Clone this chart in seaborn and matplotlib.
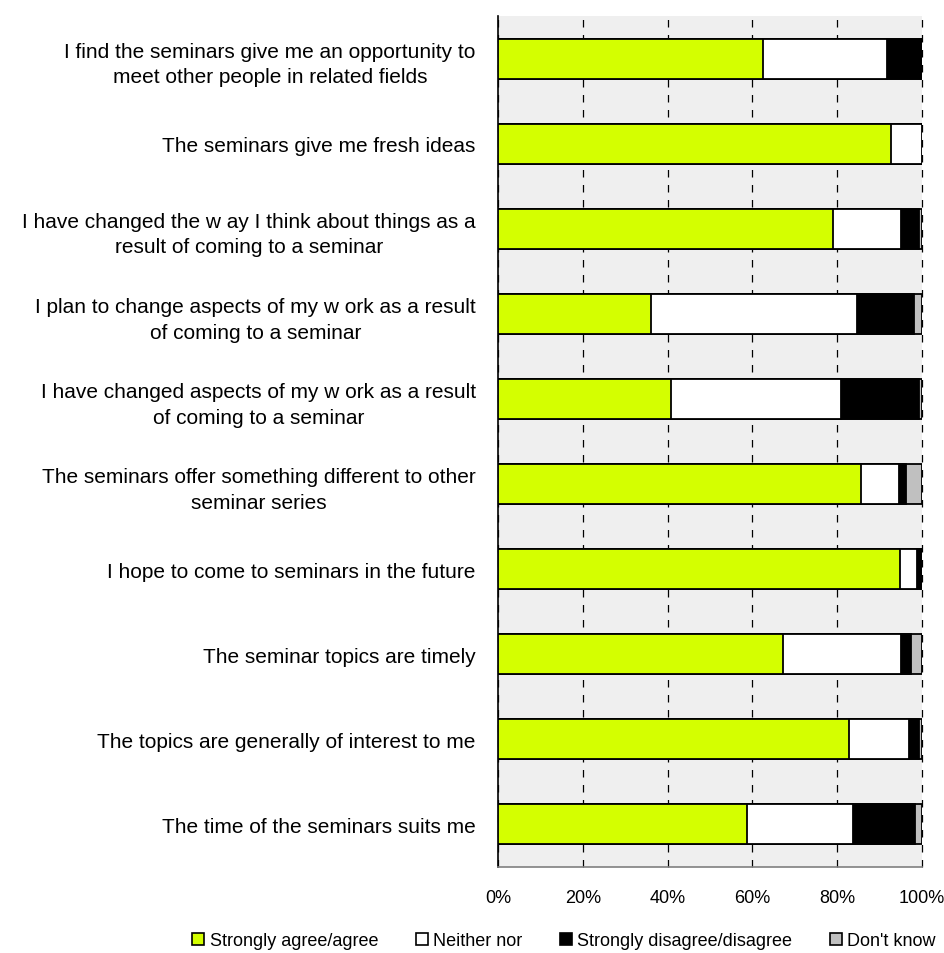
import numpy as np
import pandas as pd
import matplotlib
matplotlib.use('Agg')
import matplotlib.pyplot as plt
from matplotlib.patches import Patch
import seaborn as sns

# ── data (percent of respondents, top row first) ─────────────
statements = [
    "I find the seminars give me an opportunity to\nmeet other people in related fields",
    "The seminars give me fresh ideas",
    "I have changed the w ay I think about things as a\nresult of coming to a seminar",
    "I plan to change aspects of my w ork as a result\nof coming to a seminar",
    "I have changed aspects of my w ork as a result\nof coming to a seminar",
    "The seminars offer something different to other\nseminar series",
    "I hope to come to seminars in the future",
    "The seminar topics are timely",
    "The topics are generally of interest to me",
    "The time of the seminars suits me",
]
agree      = [62.6, 92.7, 79.1, 36.2, 40.9, 85.7, 94.7, 67.3, 82.9, 58.8]
neither    = [29.1,  7.3, 15.9, 48.4, 39.9,  8.9,  4.1, 27.7, 14.0, 24.9]
disagree   = [ 8.3,  0.0,  4.2, 13.6, 18.4,  1.6,  1.2,  2.3,  2.4, 14.6]
dont_know  = [ 0.0,  0.0,  0.8,  1.8,  0.8,  3.8,  0.0,  2.7,  0.7,  1.7]

series_names = ["Strongly agree/agree", "Neither nor",
                "Strongly disagree/disagree", "Don't know"]
colors = ["#d4ff00", "#ffffff", "#000000", "#c0c0c0"]
ticks = [0, 20, 40, 60, 80, 100]

# ── build cumulative table for stacking ──────────────────────
df = pd.DataFrame({
    "statement": statements,
    series_names[0]: agree,
    series_names[1]: neither,
    series_names[2]: disagree,
    series_names[3]: dont_know,
})
cum = df[series_names].cumsum(axis=1)
cum["statement"] = df["statement"]

# ── plot ─────────────────────────────────────────────────────
sns.set_style("white")
plt.rcParams['font.family'] = ['Liberation Sans', 'DejaVu Sans']
plt.rcParams['text.color'] = 'black'
plt.rcParams['xtick.color'] = 'black'
plt.rcParams['ytick.color'] = 'black'

fig = plt.figure(figsize=(9.45, 9.54), dpi=100)
ax = fig.add_axes([498 / 945, 1 - 868 / 954, 424 / 945, (868 - 17) / 954])
ax.set_facecolor("#efefef")

# draw longest cumulative first so the shorter ones sit on top
for name, col in reversed(list(zip(series_names, colors))):
    sns.barplot(data=cum, x=name, y="statement", orient="h", color=col,
                edgecolor="black", linewidth=1.3, width=0.47,
                saturation=1, ax=ax, zorder=3)

ax.set_xlim(0, 100)
ax.set_ylim(len(statements) - 0.5, -0.5)
ax.set_xticks(ticks)
ax.set_xticklabels([f"{t}%" for t in ticks], fontsize=13)
ax.tick_params(axis="x", length=0, pad=16)
ax.tick_params(axis="y", length=0, pad=16)
for lab in ax.get_yticklabels():
    lab.set_fontsize(15)
    lab.set_multialignment("center")
    lab.set_linespacing(1.45)
ax.set_xlabel("")
ax.set_ylabel("")

ax.grid(axis="x", color="black", linestyle=(0, (6, 6)), linewidth=0.9, zorder=1)
ax.grid(axis="y", visible=False)
for gl in ax.get_xgridlines():
    gl.set_clip_on(False)
ax.set_axisbelow(True)

for side in ["top", "right"]:
    ax.spines[side].set_visible(False)
ax.spines["left"].set_color("black")
ax.spines["left"].set_linewidth(1.2)
ax.spines["bottom"].set_color("#808080")
ax.spines["bottom"].set_linewidth(1.2)

handles = [Patch(facecolor=c, edgecolor="black", linewidth=1.2) for c in colors]
fig.legend(handles, series_names, loc="lower center", ncol=4,
           bbox_to_anchor=(0.597, -0.013), frameon=False, fontsize=13,
           handlelength=0.65, handleheight=0.65, handletextpad=0.3,
           columnspacing=2.1)

fig.savefig("out.png", dpi=100)
